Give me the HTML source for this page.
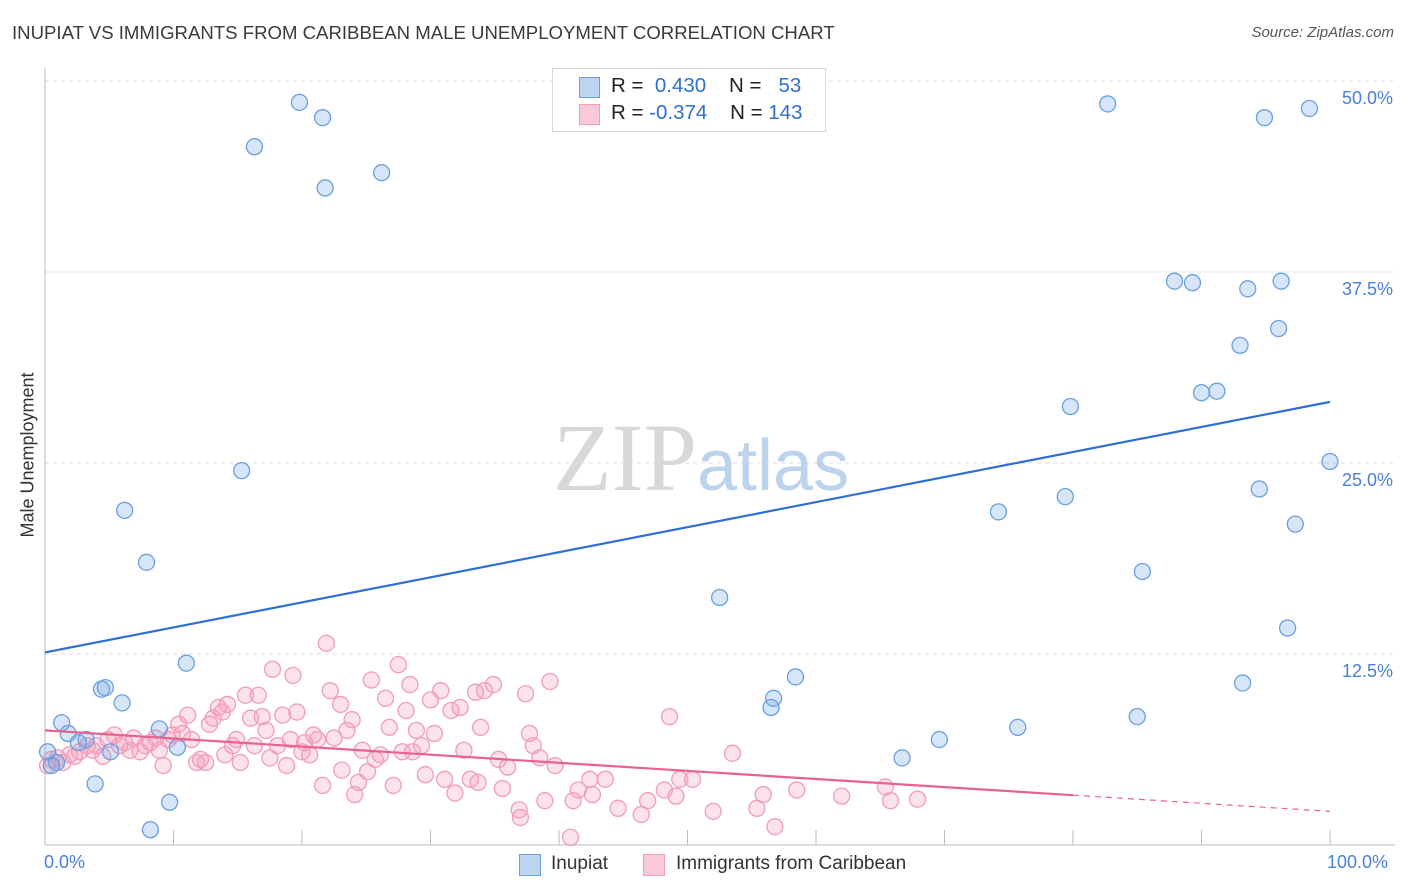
<!DOCTYPE html>
<html><head><meta charset="utf-8"><style>
body{margin:0;background:#fff;font-family:"Liberation Sans",sans-serif;}
#wrap{position:relative;width:1406px;height:892px;overflow:hidden;}
.t{position:absolute;white-space:nowrap;}
</style></head><body>
<div id="wrap">
<div class="t" style="left:12px;top:22px;font-size:18.6px;color:#3a3a3a;">INUPIAT VS IMMIGRANTS FROM CARIBBEAN MALE UNEMPLOYMENT CORRELATION CHART</div>
<div class="t" style="right:12px;top:24px;font-size:15px;color:#555;font-style:italic;">Source: ZipAtlas.com</div>
<svg id="chart" width="1406" height="892" style="position:absolute;left:0;top:0;"></svg>
</div>
<script>
const yTicks=[12.5,25,37.5,50];
const yTickLabels=["12.5%","25.0%","37.5%","50.0%"];
const inupiatX=[19.8,21.6,16.3,21.8,26.2,82.7,94.9,98.4,87.9,89.3,93.6,96.2,96.0,93.0,90.0,91.2,79.8,100,15.3,94.5,79.4,74.2,97.3,6.2,7.9,85.4,52.5,96.7,11.0,58.4,93.2,4.4,4.7,6.0,56.7,56.5,85.0,75.7,1.3,8.9,69.6,1.8,3.2,2.6,0.2,5.1,10.3,66.7,0.9,0.5,3.9,9.7,8.2];
const inupiatY=[48.6,47.6,45.7,43.0,44.0,48.5,47.6,48.2,36.9,36.8,36.4,36.9,33.8,32.7,29.6,29.7,28.7,25.1,24.5,23.3,22.8,21.8,21.0,21.9,18.5,17.9,16.2,14.2,11.9,11.0,10.6,10.2,10.3,9.3,9.6,9.0,8.4,7.7,8.0,7.6,6.9,7.3,6.9,6.7,6.1,6.1,6.4,5.7,5.4,5.2,4.0,2.8,1.0];
const caribX=[0.2,0.5,1.0,1.4,1.9,2.3,2.7,3.3,3.7,4.0,4.5,4.9,5.4,5.8,6.2,6.6,6.9,7.4,7.8,8.2,8.6,8.9,9.2,9.6,9.9,10.4,10.7,11.1,11.4,11.8,12.1,12.5,12.8,13.1,13.5,13.8,14.0,14.2,14.6,14.9,15.2,15.6,16.0,16.3,16.6,16.9,17.2,17.5,17.7,18.1,18.5,18.8,19.1,19.3,19.6,20.0,20.2,20.6,20.9,21.2,21.6,21.9,22.2,22.5,23.0,23.1,23.5,23.9,24.1,24.4,24.7,25.1,25.4,25.7,26.1,26.5,26.8,27.1,27.5,27.8,28.1,28.4,28.6,28.9,29.3,29.6,30.0,30.3,30.8,31.1,31.6,31.9,32.3,32.6,33.1,33.5,33.7,33.9,34.2,34.9,35.3,35.6,36.0,36.9,37.0,37.4,37.7,38.0,38.5,38.9,39.3,39.7,40.9,41.1,41.5,42.4,42.6,43.6,44.6,46.4,46.9,48.2,48.6,49.1,49.4,50.4,52.0,53.5,55.4,55.9,56.8,58.5,62.0,65.4,65.8,67.9];
const caribY=[5.2,5.6,5.7,5.4,5.9,5.8,6.1,6.5,6.2,6.5,5.8,6.9,7.2,6.5,6.7,6.2,7.0,6.1,6.5,6.7,7.0,6.2,5.2,6.9,7.2,7.9,7.3,8.5,6.9,5.4,5.6,5.4,7.9,8.3,9.0,8.7,5.9,9.2,6.5,6.9,5.4,9.8,8.3,6.5,9.8,8.4,7.5,5.7,11.5,6.5,8.5,5.2,6.9,11.1,8.7,6.1,6.7,5.9,7.2,6.9,3.9,13.2,10.1,7.0,9.2,4.9,7.5,8.2,3.3,4.1,6.2,4.8,10.8,5.6,5.9,9.6,7.7,3.9,11.8,6.1,8.8,10.5,6.1,7.5,6.5,4.6,9.5,7.3,10.1,4.3,8.8,3.4,9.0,6.2,4.3,10.0,4.1,7.7,10.1,10.5,5.6,3.7,5.1,2.3,1.8,9.9,7.3,6.5,5.7,2.9,10.7,5.2,0.5,2.9,3.6,4.3,3.3,4.3,2.4,2.0,2.9,3.6,8.4,3.2,4.3,4.3,2.2,6.0,2.4,3.3,1.2,3.6,3.2,3.8,2.9,3.0];
const blueTrend=[12.6,29.0];
const pinkTrend=[7.5,2.2];
const pinkSolidEnd=80;

const X0=45,X1=1330,Y0=845,PXPER=15.28;
const sx=v=>X0+(X1-X0)*v/100;
const sy=v=>Y0-v*PXPER;
const svg=document.getElementById('chart');
const NS='http://www.w3.org/2000/svg';
function mk(tag,attrs){const e=document.createElementNS(NS,tag);for(const k in attrs)e.setAttribute(k,attrs[k]);svg.appendChild(e);return e;}

yTicks.forEach((t,i)=>{
  const g=mk('line',{x1:X0,x2:1395,y1:sy(t),y2:sy(t),stroke:'#dcdcdc','stroke-dasharray':'4,4'});
  
  
  const tx=mk('text',{x:1393,y:sy(t)+23,'text-anchor':'end','font-size':'18',fill:'#4a7fd4','font-family':'Liberation Sans, sans-serif'});
  tx.textContent=yTickLabels[i];
  
  
});
const topGrid=mk('line',{x1:X0,x2:1395,y1:sy(50),y2:sy(50),stroke:'#dcdcdc','stroke-dasharray':'4,4'});


const ax=mk('line',{x1:X0,x2:X0,y1:68,y2:Y0,stroke:'#bbb'});


const bx=mk('line',{x1:X0,x2:1395,y1:Y0,y2:Y0,stroke:'#bbb'});


for(let i=0;i<=10;i++){
  const tk=mk('line',{x1:sx(i*10),x2:sx(i*10),y1:Y0,y2:Y0-15,stroke:'#bbb'});
  
  
}
const wm=mk('text',{x:553,y:490,'font-size':'96','font-family':'Liberation Serif, serif',fill:'#d8d8d8'});
wm.innerHTML='ZIP<tspan fill="#bcd3ee" font-family="Liberation Sans, sans-serif" font-size="72">atlas</tspan>';



caribX.forEach((x,i)=>{
  const c=mk('circle',{cx:sx(x),cy:sy(caribY[i]),r:8,fill:'rgba(244,160,190,0.3)',stroke:'#f29bbb','stroke-width':1.3});
  
  
});
inupiatX.forEach((x,i)=>{
  const c=mk('circle',{cx:sx(x),cy:sy(inupiatY[i]),r:8,fill:'rgba(120,170,230,0.3)',stroke:'#6a9fe0','stroke-width':1.3});
  
  
});
const bl=mk('line',{x1:sx(0),y1:sy(blueTrend[0]),x2:sx(100),y2:sy(blueTrend[1]),stroke:'#2e6fd6','stroke-width':2.2});


const pAt=x=>pinkTrend[0]+(pinkTrend[1]-pinkTrend[0])*x/100;
const pl=mk('line',{x1:sx(0),y1:sy(pAt(0)),x2:sx(pinkSolidEnd),y2:sy(pAt(pinkSolidEnd)),stroke:'#e8628f','stroke-width':2.2});


const pd=mk('line',{x1:sx(pinkSolidEnd),y1:sy(pAt(pinkSolidEnd)),x2:sx(100),y2:sy(pAt(100)),stroke:'#e8628f','stroke-width':1.2,'stroke-dasharray':'6,5'});


</script>
<div class="t" style="top:455px;transform:translate(-50%,-50%) rotate(-90deg);transform-origin:center;left:28px;font-size:18px;color:#333;">Male Unemployment</div>
<div class="t" style="left:44px;top:852px;font-size:18px;color:#4a7fd4;">0.0%</div>
<div class="t" style="left:1327px;top:852px;font-size:18px;color:#4a7fd4;">100.0%</div>
<div style="position:absolute;left:552px;top:68px;width:272px;height:62px;border:1px solid #d8d8d8;background:#fff;font-size:20.5px;color:#222;">
 <div style="position:absolute;left:26px;top:8px;width:19px;height:19px;background:#bcd5f3;border:1px solid #6a9fe0;"></div>
 <div class="t" style="left:58px;top:5px;">R = <span style="color:#2e6fd6">&nbsp;0.430</span>&nbsp;&nbsp;&nbsp;&nbsp;N = <span style="color:#2e6fd6">&nbsp;&nbsp;53</span></div>
 <div style="position:absolute;left:26px;top:35px;width:19px;height:19px;background:#f9c9d8;border:1px solid #f29bbb;"></div>
 <div class="t" style="left:58px;top:32px;">R = <span style="color:#2e6fd6">-0.374</span>&nbsp;&nbsp;&nbsp;&nbsp;N = <span style="color:#2e6fd6">143</span></div>
</div>
<div style="position:absolute;left:519px;top:854px;width:20px;height:20px;background:#bcd5f3;border:1px solid #6a9fe0;"></div>
<div class="t" style="left:551px;top:853px;font-size:19px;color:#333;">Inupiat</div>
<div style="position:absolute;left:643px;top:854px;width:20px;height:20px;background:#f9c9d8;border:1px solid #f29bbb;"></div>
<div class="t" style="left:676px;top:853px;font-size:19px;color:#333;">Immigrants from Caribbean</div>
</body></html>
